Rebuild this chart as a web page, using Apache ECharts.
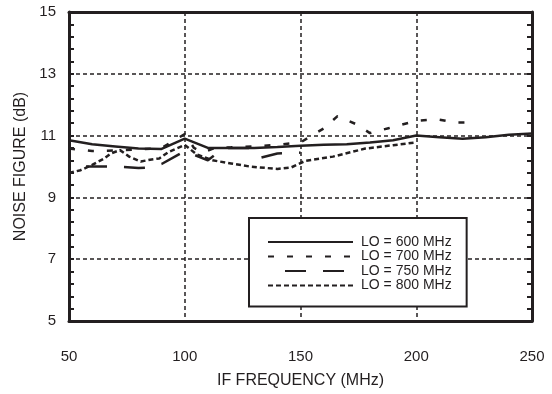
<!DOCTYPE html>
<html>
<head>
<meta charset="utf-8">
<script src="https://cdn.jsdelivr.net/npm/echarts@6/dist/echarts.min.js"></script>
<style>
  html, body { margin: 0; padding: 0; background: #fff; }
  #chart { width: 552px; height: 394px; }
</style>
</head>
<body>
<div id="chart"></div>
<script>
// values, [IF frequency MHz, noise figure dB]
var seriesNames = ['LO = 600 MHz', 'LO = 700 MHz', 'LO = 750 MHz', 'LO = 800 MHz'];

var lo600 = [
  [50, 10.85], [60, 10.72], [70, 10.65], [80, 10.58], [90, 10.57], [100, 10.9],
  [110, 10.6], [120, 10.6], [130, 10.6], [140, 10.63], [150, 10.67], [160, 10.7],
  [170, 10.72], [180, 10.78], [190, 10.85], [200, 11.0], [210, 10.95], [220, 10.9],
  [230, 10.95], [240, 11.03], [250, 11.07]
];
var lo700 = [
  [50, 10.58], [60, 10.5], [70, 10.52], [80, 10.55], [90, 10.6], [100, 11.05],
  [104, 10.6], [108, 10.45], [113, 10.6], [120, 10.62], [130, 10.65], [140, 10.7],
  [150, 10.78], [160, 11.23], [166, 11.63], [174, 11.37], [180, 11.08], [188, 11.24],
  [200, 11.48], [209, 11.53], [217, 11.42], [225, 11.42]
];
var lo750 = [
  [50, 10.0], [60, 10.0], [70, 10.0], [80, 9.95], [85, 9.97], [90, 10.08],
  [100, 10.5], [110, 10.2], [117, 10.6], [128, 10.6], [132, 10.27], [140, 10.42],
  [150, 10.45]
];
var lo800 = [
  [50, 9.79], [55, 9.88], [60, 10.05], [65, 10.25], [68, 10.42], [72, 10.53],
  [76, 10.32], [81, 10.16], [85, 10.22], [89, 10.26], [93, 10.47], [100, 10.7],
  [105, 10.4], [112, 10.2], [120, 10.1], [128, 10.0], [140, 9.92], [146, 9.97],
  [152, 10.18], [164, 10.32], [178, 10.58], [190, 10.69], [199, 10.77]
];

var ink = '#231f20';
var font = 'Liberation Sans, Arial, sans-serif';

var chart = echarts.init(document.getElementById('chart'));

var gridDash = { show: true, lineStyle: { color: ink, width: 1.5, type: [4, 3] } };
var frame = { show: true, lineStyle: { color: ink, width: 3 } };

function line(name, data, type, offset) {
  return {
    name: name,
    type: 'line',
    data: data,
    symbol: 'none',
    showSymbol: false,
    animation: false,
    lineStyle: { color: ink, width: 2.5, type: type, dashOffset: offset || 0, cap: 'butt' },
    itemStyle: { color: ink },
    emphasis: { disabled: true }
  };
}

var option = {
  animation: false,
  backgroundColor: '#fff',
  textStyle: { fontFamily: font },
  grid: { left: 69, right: 20, top: 12, bottom: 66, containLabel: false },
  legend: {
    left: 249, top: 218,
    orient: 'vertical',
    data: seriesNames,
    itemWidth: 85, itemHeight: 14, itemGap: 0.5,
    padding: [17, 15, 14, 18],
    backgroundColor: '#fff',
    borderColor: ink, borderWidth: 2,
    itemStyle: { opacity: 0 },
    textStyle: { fontFamily: font, fontSize: 14, color: ink, padding: [0, 0, 0, 3] },
    selectedMode: false
  },
  xAxis: [
    {
      type: 'value', min: 50, max: 250, interval: 50,
      name: 'IF FREQUENCY (MHz)', nameLocation: 'middle', nameGap: 52,
      nameTextStyle: { fontFamily: font, fontSize: 16, color: ink },
      axisLine: frame,
      axisTick: { show: false },
      axisLabel: { fontFamily: font, fontSize: 15, color: ink, margin: 28 },
      splitLine: gridDash
    },
    {
      type: 'value', min: 50, max: 250, position: 'top',
      axisLine: frame, axisTick: { show: false }, axisLabel: { show: false },
      splitLine: { show: false }
    }
  ],
  yAxis: [
    {
      type: 'value', min: 5, max: 15, interval: 2,
      name: 'NOISE FIGURE (dB)', nameLocation: 'middle', nameGap: 39,
      nameTextStyle: { fontFamily: font, fontSize: 16, color: ink },
      axisLine: frame,
      axisTick: { show: true, inside: true, length: 5, lineStyle: { color: ink, width: 2 } },
      minorTick: { show: true, splitNumber: 5, length: 5, lineStyle: { color: ink, width: 2 } },
      axisLabel: { fontFamily: font, fontSize: 15, color: ink, margin: 13 },
      splitLine: gridDash
    },
    {
      type: 'value', min: 5, max: 15, interval: 2, position: 'right',
      axisLine: frame,
      axisTick: { show: true, inside: true, length: 5, lineStyle: { color: ink, width: 2 } },
      minorTick: { show: true, splitNumber: 5, length: 5, lineStyle: { color: ink, width: 2 } },
      axisLabel: { show: false },
      splitLine: { show: false }
    }
  ],
  series: [
    line(seriesNames[0], lo600, 'solid'),
    line(seriesNames[1], lo700, [6, 13]),
    line(seriesNames[2], lo750, [21, 17], 21),
    line(seriesNames[3], lo800, [5, 3])
  ]
};

chart.setOption(option);
</script>
</body>
</html>
